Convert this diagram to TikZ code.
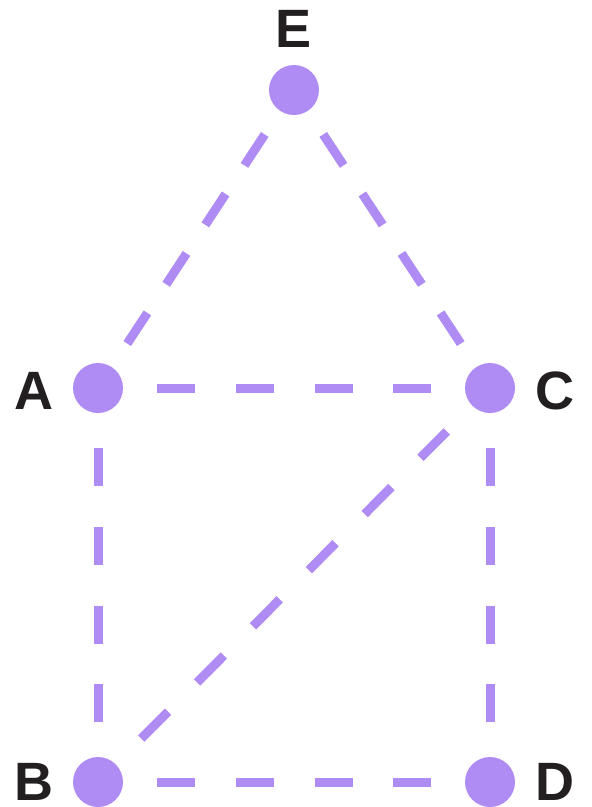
\documentclass[tikz,border=0pt]{standalone}
\usepackage{fontspec}
\setmainfont{Liberation Sans}
\usepackage{tikz}
\definecolor{vtx}{HTML}{AE8CF4}
\definecolor{ink}{HTML}{231F20}

\begin{document}
\begin{tikzpicture}[x=1pt,y=-1pt,
  vert/.style={circle,fill=vtx,inner sep=0pt,minimum size=50pt},
  lbl/.style={font=\fontsize{54}{60}\selectfont\bfseries,text=ink,inner sep=0pt},
  edge/.style n args={3}{vtx,line width=9pt,dash pattern=on #1pt off #2pt,
    shorten <=#3pt,shorten >=#3pt}]
	\useasboundingbox (0,0) rectangle (592,807);
	\node[vert] (e) at (294,90){};
	\node[vert] (a) at (98,388){};
	\node[vert] (c) at (490,388){};
	\node[vert] (b) at (98,782){};
	\node[vert] (d) at (490,782){};
	\node[lbl] (le) at (294,29){E};
	\node[lbl] (la) at (34,391){A};
	\node[lbl] (lc) at (555,391){C};
	\node[lbl] (lb) at (34,782){B};
	\node[lbl] (ld) at (555,782){D};
	% edges
	\draw[edge={37}{34.2}{28}] (e)--(a);
	\draw[edge={37}{34.2}{28}] (e)--(c);
	\draw[edge={38}{40.7}{34}] (a)--(c);
	\draw[edge={38}{40.7}{35}] (a)--(b);
	\draw[edge={38}{40.7}{35}] (c)--(d);
	\draw[edge={38}{41.2}{36}] (b)--(c);
	\draw[edge={38}{40.7}{34}] (b)--(d);
\end{tikzpicture}
\end{document}
